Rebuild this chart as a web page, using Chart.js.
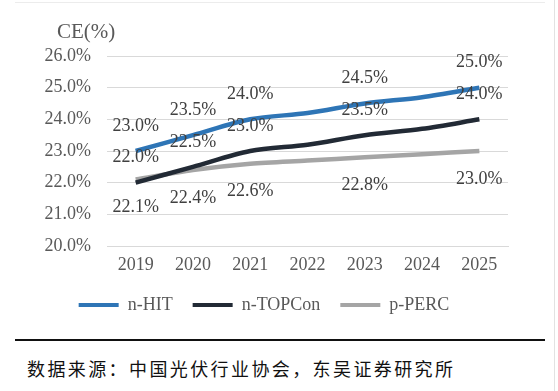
<!DOCTYPE html>
<html>
<head>
<meta charset="utf-8">
<script src="https://cdn.jsdelivr.net/npm/chart.js@4.4.0/dist/chart.umd.min.js"></script>
<style>
  body { margin: 0; background: #fff; }
  #wrap { position: relative; width: 558px; height: 391px; overflow: hidden; }
  #topline { position: absolute; left: 15px; top: 2px; width: 530px; height: 1px; background: #ececec; }
  #rightline { position: absolute; left: 554px; top: 0; width: 1px; height: 391px; background: #e2e2e2; }
  #box { position: absolute; left: 0; top: 0; width: 558px; height: 326px; }
  #rule { position: absolute; left: 15px; top: 339px; width: 530px; height: 2px; background: #111; }
  #source { position: absolute; left: 27px; top: 355px; font-family: "Noto Sans CJK SC", sans-serif; font-size: 18px; letter-spacing: 2.4px; color: #111; line-height: 26px; white-space: nowrap; }
</style>
</head>
<body>
<div id="wrap">
  <div id="topline"></div>
  <div id="rightline"></div>
  <div id="box"><canvas id="chart"></canvas></div>
  <div id="rule"></div>
  <div id="source">数据来源：中国光伏行业协会，东吴证券研究所</div>
</div>
<script>
// chart data
const years = ['2019', '2020', '2021', '2022', '2023', '2024', '2025'];
const hit = [23.0, 23.5, 24.0, 24.2, 24.5, 24.7, 25.0];
const topcon = [22.0, 22.5, 23.0, 23.2, 23.5, 23.7, 24.0];
const perc = [22.1, 22.4, 22.6, 22.7, 22.8, 22.9, 23.0];
// which points carry a value label
const labelledIdx = [0, 1, 2, 4, 6];

const serif = '"Liberation Serif", "Times New Roman", serif';

// value labels: blue & dark above the line, grey below
const valueLabels = {
  id: 'valueLabels',
  afterDatasetsDraw(chart) {
    const ctx = chart.ctx;
    ctx.save();
    ctx.font = '18px ' + serif;
    ctx.fillStyle = '#404040';
    ctx.textAlign = 'center';
    ctx.textBaseline = 'middle';
    chart.data.datasets.forEach((ds, i) => {
      const meta = chart.getDatasetMeta(i);
      labelledIdx.forEach(j => {
        const pt = meta.data[j];
        const dy = ds.labelBelow ? 28 : -25;
        ctx.fillText(ds.data[j].toFixed(1) + '%', pt.x, pt.y + dy);
      });
    });
    ctx.restore();
  }
};

// "CE(%)" axis caption at top left
const axisCaption = {
  id: 'axisCaption',
  afterDraw(chart) {
    const ctx = chart.ctx;
    ctx.save();
    ctx.font = '21px ' + serif;
    ctx.fillStyle = '#595959';
    ctx.textAlign = 'left';
    ctx.textBaseline = 'middle';
    ctx.fillText('CE(%)', chart.chartArea.left - 50, chart.chartArea.top - 24);
    ctx.restore();
  }
};

const ctx = document.getElementById('chart');

new Chart(ctx, {
  type: 'line',
  data: {
    labels: years,
    datasets: [{
      label: 'n-HIT',
      data: hit,
      borderColor: '#2E75B6',
      backgroundColor: '#2E75B6',
      borderWidth: 4.5,
      pointRadius: 0,
      tension: 0.3
    }, {
      label: 'n-TOPCon',
      data: topcon,
      borderColor: '#222A35',
      backgroundColor: '#222A35',
      borderWidth: 4.5,
      pointRadius: 0,
      tension: 0.3
    }, {
      label: 'p-PERC',
      data: perc,
      borderColor: '#A5A5A5',
      backgroundColor: '#A5A5A5',
      borderWidth: 4.5,
      pointRadius: 0,
      tension: 0.3,
      labelBelow: true
    }]
  },
  options: {
    responsive: true,
    maintainAspectRatio: false,
    animation: false,
    layout: { padding: { top: 56, left: 20, right: 50, bottom: 2 } },
    plugins: {
      tooltip: { enabled: false },
      legend: {
        position: 'bottom',
        labels: {
          boxWidth: 40,
          boxHeight: 4,
          padding: 20,
          color: '#595959',
          font: { family: serif, size: 18 },
          generateLabels: chart => Chart.defaults.plugins.legend.labels.generateLabels(chart)
            .map(l => ({ ...l, lineWidth: 0 }))
        }
      }
    },
    scales: {
      x: {
        offset: true,
        afterFit: scale => { scale.height = 30; },
        grid: { display: false, drawTicks: false },
        border: { display: true, color: '#d9d9d9' },
        ticks: { color: '#595959', padding: 8, font: { family: serif, size: 18 } }
      },
      y: {
        min: 20,
        max: 26,
        afterFit: scale => { scale.width = 87; },
        grid: { color: '#d9d9d9', drawTicks: false },
        border: { display: false },
        ticks: {
          stepSize: 1,
          padding: 16,
          color: '#595959',
          font: { family: serif, size: 18 },
          callback: v => v.toFixed(1) + '%'
        }
      }
    }
  },
  plugins: [valueLabels, axisCaption]
});
</script>
</body>
</html>
